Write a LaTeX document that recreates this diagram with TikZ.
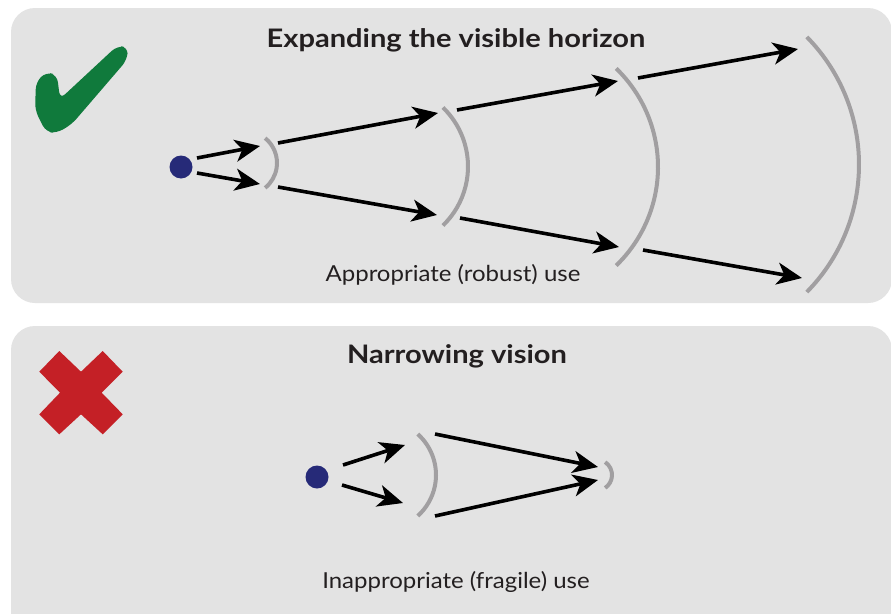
\documentclass[tikz,border=0pt]{standalone}
\usepackage{fontspec}
\setmainfont{Lato}
\newfontfamily\titlefont[FakeStretch=1.14]{Lato}
\newfontfamily\labelfont[FakeStretch=1.09]{Lato}
\usetikzlibrary{arrows.meta,calc}
\definecolor{panel}{HTML}{E3E3E3}
\definecolor{arcgray}{HTML}{A19FA1}
\definecolor{dotblue}{HTML}{262A78}
\definecolor{okgreen}{HTML}{107A3C}
\definecolor{badred}{HTML}{C42026}
\definecolor{txt}{HTML}{231F20}
\tikzset{
  panelbox/.style={fill=panel, rounded corners=24pt},
  arcline/.style={draw=arcgray, line width=4pt},
  arr/.style={draw=black, line width=3.6pt, -{Stealth[length=25pt,width=22pt,inset=7pt]}},
  dotnode/.style={circle, fill=dotblue, minimum size=23pt, inner sep=0pt},
  titletext/.style={font=\titlefont\fontsize{25.5}{28}\selectfont\bfseries, text=txt, anchor=base, inner sep=0pt},
  labeltext/.style={font=\labelfont\fontsize{22}{25}\selectfont, text=txt, anchor=base, inner sep=0pt}
}
\begin{document}
\begin{tikzpicture}[x=1pt,y=-1pt]
\useasboundingbox (0,0) rectangle (891,613);
\fill[white] (0,0) rectangle (891,613);
% panels
\fill[panelbox] (11,8) rectangle (892,303);
\fill[panelbox] (11,326) rectangle (892,640);
% check mark
\fill[okgreen, rounded corners=7pt] (46,132) -- (35,110) -- (36,82) -- (46,72) -- (57,75) -- (60,99) -- (117,46) -- (128,47) -- (127,60) -- (72,124) -- (57,133) -- cycle;
% red cross
\fill[badred] (39.3,371.7) -- (59.3,351) -- (81,371.7) -- (102.7,351) -- (122.7,371.7) -- (101.7,392.7) -- (122.7,414.3) -- (102.7,434.3) -- (81,414.3) -- (59.3,434.3) -- (39.3,414.3) -- (60,392.7) -- cycle;
% titles and labels
\node[titletext] (t1) at (456,47) {Expanding the visible horizon};
\node[labeltext] (l1) at (453,281.5) {Appropriate (robust) use};
\node[titletext] (t2) at (457,363) {Narrowing vision};
\node[labeltext] (l2) at (456,588) {Inappropriate (fragile) use};
% top diagram
\node[dotnode] (d1) at (181,167) {};
\draw[arcline] (245,163) ++(51:32pt) arc[start angle=51, end angle=-51, radius=32pt];
\draw[arcline] (386,166.5) ++(46:82pt) arc[start angle=46, end angle=-46, radius=82pt];
\draw[arcline] (521,167) ++(46:137pt) arc[start angle=46, end angle=-46, radius=137pt];
\draw[arcline] (677,164.5) ++(44.5:182pt) arc[start angle=44.5, end angle=-44.5, radius=182pt];
\coordinate (s1) at (197,158); \coordinate (e1) at (260,146);
\coordinate (s2) at (197,173); \coordinate (e2) at (260,184);
\coordinate (s3) at (278,143); \coordinate (e3) at (438,113);
\coordinate (s4) at (278,187); \coordinate (e4) at (437,215);
\coordinate (s5) at (457,110); \coordinate (e5) at (618,81);
\coordinate (s6) at (460,218); \coordinate (e6) at (619,247);
\coordinate (s7) at (638,78); \coordinate (e7) at (798,49);
\coordinate (s8) at (643,250); \coordinate (e8) at (802,278);
\foreach \i in {1,...,8} {\draw[arr] (s\i) -- (e\i);}
% bottom diagram
\node[dotnode] (d2) at (317,477) {};
\draw[arcline] (381,475) ++(48:55pt) arc[start angle=48, end angle=-48, radius=55pt];
\draw[arcline] (596.4,475) ++(56:15.6pt) arc[start angle=56, end angle=-56, radius=15.6pt];
\coordinate (u1) at (343,465); \coordinate (v1) at (405,445);
\coordinate (u2) at (342,485); \coordinate (v2) at (403,503);
\coordinate (u3) at (435,434); \coordinate (v3) at (598,467);
\coordinate (u4) at (435,516); \coordinate (v4) at (598,480);
\foreach \i in {1,...,4} {\draw[arr] (u\i) -- (v\i);}
\end{tikzpicture}
\end{document}
